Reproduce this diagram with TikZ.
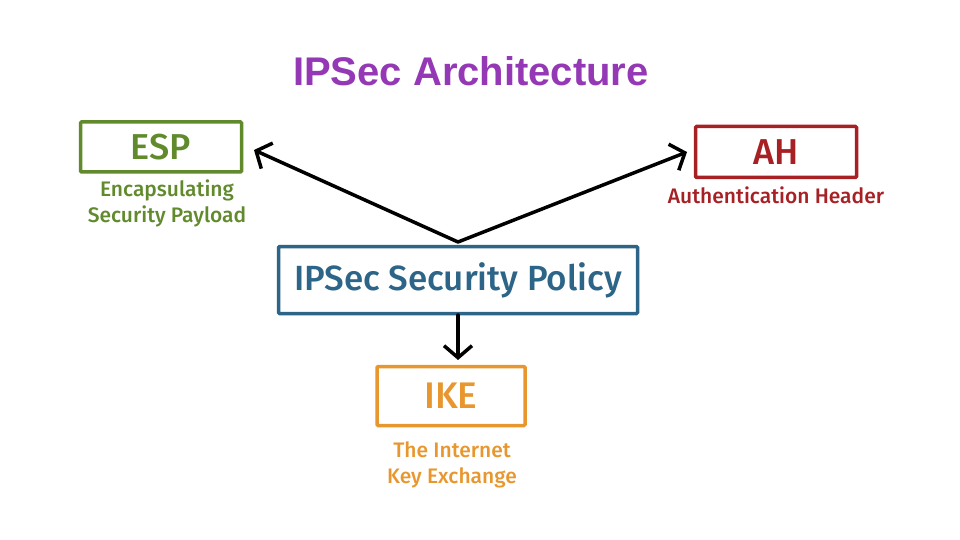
\documentclass[tikz,border=0pt]{standalone}
\usepackage{fontspec}
\setmainfont{Fira Sans}
\newfontfamily\medfont{Fira Sans Medium}
\newfontfamily\titlefont{Liberation Sans}
\usetikzlibrary{arrows.meta}
\definecolor{espgreen}{HTML}{608A2C}
\definecolor{ahred}{HTML}{A62024}
\definecolor{polblue}{HTML}{2C6588}
\definecolor{ikeorange}{HTML}{E8972F}
\definecolor{titlepurple}{HTML}{9538B5}
\tikzset{
  boxstyle/.style={draw, line width=3.5pt, inner sep=0pt, rounded corners=1pt},
  capstyle/.style={align=center, inner sep=0pt, font=\medfont\fontsize{21}{26}\selectfont},
  arrowstyle/.style={line width=3.5pt, -{Straight Barb[length=12pt,width=28pt,line width=3.5pt]}, line cap=round, line join=round}
}
\begin{document}
\begin{tikzpicture}[x=1pt,y=-1pt]
\useasboundingbox (0,0) rectangle (960,540);
\node[font=\titlefont\bfseries\fontsize{40}{44}\selectfont, text=titlepurple] (title) at (471,71) {IPSec Architecture};

\node[boxstyle, espgreen, minimum width=161pt, minimum height=50pt, text=espgreen, font=\medfont\fontsize{36}{40}\selectfont] (esp) at (161,147) {ESP};
\node[capstyle, text=espgreen] (espcap) at (167,203) {Encapsulating\\Security Payload};

\node[boxstyle, ahred, minimum width=161pt, minimum height=51pt, text=ahred, font=\medfont\fontsize{36}{40}\selectfont] (ah) at (776,152) {AH};
\node[capstyle, text=ahred] (ahcap) at (776,195) {Authentication Header};

\node[boxstyle, polblue, minimum width=359pt, minimum height=67pt, text=polblue, font=\medfont\fontsize{35}{40}\selectfont] (pol) at (458,280) {IPSec Security Policy};

\node[boxstyle, ikeorange, minimum width=148pt, minimum height=59pt, text=ikeorange, font=\medfont\fontsize{37}{40}\selectfont] (ike) at (451,396) {IKE};
\node[capstyle, text=ikeorange] (ikecap) at (452,465) {The Internet\\Key Exchange};

\coordinate (apex) at (458,242);
\coordinate (esptip) at (254,150);
\coordinate (ahtip) at (687,152);
\coordinate (polbot) at (458,315);
\coordinate (iketip) at (458,360);
\draw[arrowstyle] (apex) -- (esptip);
\draw[arrowstyle] (apex) -- (ahtip);
\draw[arrowstyle] (polbot) -- (iketip);
\end{tikzpicture}
\end{document}
